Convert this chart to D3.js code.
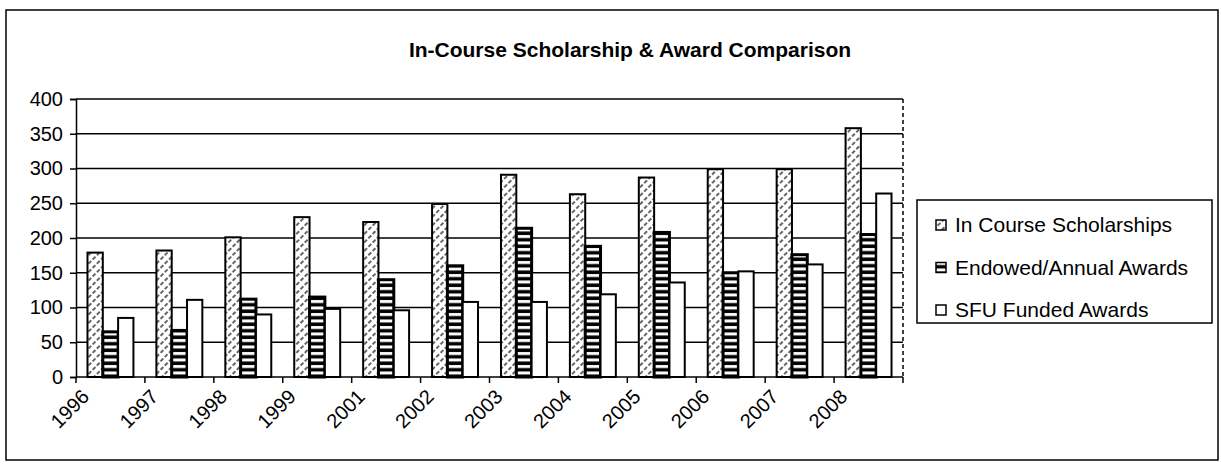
<!DOCTYPE html>
<html>
<head>
<meta charset="utf-8">
<script src="https://cdn.jsdelivr.net/npm/d3@7"></script>
<style>
  body { margin: 0; background: #fff; }
  svg { display: block; font-family: "Liberation Sans", Arial, sans-serif; }
</style>
</head>
<body>
<svg id="chart"></svg>
<script>
const years = ["1996", "1997", "1998", "1999", "2001", "2002", "2003", "2004", "2005", "2006", "2007", "2008"];
const seriesNames = ["In Course Scholarships", "Endowed/Annual Awards", "SFU Funded Awards"];
const inCourse = [179, 182, 201, 230, 223, 249, 291, 263, 287, 299, 299, 358];
const endowed = [65, 67, 112, 115, 140, 160, 214, 188, 208, 150, 176, 205];
const sfuFunded = [85, 111, 90, 98, 96, 108, 108, 119, 136, 152, 162, 264];
const yTicks = [0, 50, 100, 150, 200, 250, 300, 350, 400];

const width = 1221;
const height = 467;
const plot = { left: 76, right: 903, top: 99, bottom: 377 };

const svg = d3.select("#chart")
  .attr("width", width)
  .attr("height", height);

svg.append("rect")
  .attr("width", width)
  .attr("height", height)
  .attr("fill", "#fff");

// fill patterns
const defs = svg.append("defs");

const hatch = defs.append("pattern")
  .attr("id", "hatch")
  .attr("patternUnits", "userSpaceOnUse")
  .attr("width", 6)
  .attr("height", 6)
  .attr("patternTransform", "rotate(45)");
hatch.append("rect").attr("width", 6).attr("height", 6).attr("fill", "#fff");
hatch.append("line")
  .attr("x1", 3).attr("y1", 0).attr("x2", 3).attr("y2", 6)
  .attr("stroke", "#000")
  .attr("stroke-width", 1.2)
  .attr("stroke-dasharray", "4,2");

const stripes = defs.append("pattern")
  .attr("id", "stripes")
  .attr("patternUnits", "userSpaceOnUse")
  .attr("width", 10)
  .attr("height", 6.5);
stripes.append("rect").attr("width", 10).attr("height", 6.5).attr("fill", "#000");
stripes.append("rect").attr("y", 1).attr("width", 10).attr("height", 3).attr("fill", "#fff");

const fills = ["url(#hatch)", "url(#stripes)", "#fff"];
const strokeW = [2, 3, 2];

// outer chart border
svg.append("rect")
  .attr("x", 6)
  .attr("y", 10)
  .attr("width", 1212)
  .attr("height", 450)
  .attr("fill", "none")
  .attr("stroke", "#000")
  .attr("stroke-width", 1.5);

svg.append("text")
  .attr("x", 630)
  .attr("y", 57)
  .attr("text-anchor", "middle")
  .attr("font-size", "21px")
  .attr("font-weight", "bold")
  .text("In-Course Scholarship & Award Comparison");

const x = d3.scaleBand()
  .domain(years)
  .range([plot.left, plot.right])
  .padding(0);

const xInner = d3.scaleBand()
  .domain(seriesNames)
  .range([0, x.bandwidth()])
  .paddingInner(0)
  .paddingOuter(0.75);

const y = d3.scaleLinear()
  .domain([0, 400])
  .range([plot.bottom, plot.top]);

// gridlines
svg.append("g")
  .selectAll("line")
  .data(yTicks.filter(d => d > 0))
  .enter()
  .append("line")
  .attr("x1", plot.left)
  .attr("x2", plot.right)
  .attr("y1", d => y(d))
  .attr("y2", d => y(d))
  .attr("stroke", "#000")
  .attr("stroke-width", 1.5);

// dotted right edge of plot area
svg.append("line")
  .attr("x1", plot.right)
  .attr("x2", plot.right)
  .attr("y1", plot.top)
  .attr("y2", plot.bottom)
  .attr("stroke", "#000")
  .attr("stroke-width", 1.5)
  .attr("stroke-dasharray", "4,3");

// bars
const seriesData = [inCourse, endowed, sfuFunded];
seriesData.forEach((values, si) => {
  svg.append("g")
    .selectAll("rect")
    .data(values)
    .enter()
    .append("rect")
    .attr("x", (d, i) => x(years[i]) + xInner(seriesNames[si]))
    .attr("y", d => y(d))
    .attr("width", xInner.bandwidth())
    .attr("height", d => y(0) - y(d))
    .attr("fill", fills[si])
    .attr("stroke", "#000")
    .attr("stroke-width", strokeW[si]);
});

// y axis
const yAxis = svg.append("g")
  .attr("transform", `translate(${plot.left},0)`)
  .call(d3.axisLeft(y).tickValues(yTicks).tickSize(6).tickPadding(7).tickFormat(d3.format("d")));
yAxis.selectAll("text").attr("font-size", "20px").attr("fill", "#000").attr("font-family", null);
yAxis.selectAll("line").attr("stroke", "#000").attr("stroke-width", 1.5);
yAxis.select(".domain").attr("stroke", "#000").attr("stroke-width", 1.5);

// x axis (ticks between categories)
const xAxis = svg.append("g").attr("transform", `translate(0,${plot.bottom})`);
xAxis.append("line")
  .attr("x1", plot.left)
  .attr("x2", plot.right)
  .attr("stroke", "#000")
  .attr("stroke-width", 1.5);
xAxis.selectAll(".tick-mark")
  .data(years.concat(["end"]))
  .enter()
  .append("line")
  .attr("class", "tick-mark")
  .attr("x1", (d, i) => plot.left + i * x.step())
  .attr("x2", (d, i) => plot.left + i * x.step())
  .attr("y1", 0)
  .attr("y2", 6)
  .attr("stroke", "#000")
  .attr("stroke-width", 1.5);
xAxis.selectAll(".year-label")
  .data(years)
  .enter()
  .append("text")
  .attr("class", "year-label")
  .attr("text-anchor", "end")
  .attr("font-size", "20px")
  .attr("transform", d => `translate(${x(d) + x.bandwidth() / 2 - 20},${21}) rotate(-45)`)
  .text(d => d);

// legend
const legend = svg.append("g").attr("transform", "translate(917,200)");
legend.append("rect")
  .attr("width", 295)
  .attr("height", 123)
  .attr("fill", "#fff")
  .attr("stroke", "#000")
  .attr("stroke-width", 1.5);

const items = legend.selectAll(".item")
  .data(seriesNames)
  .enter()
  .append("g")
  .attr("class", "item")
  .attr("transform", (d, i) => `translate(0,${25 + i * 42.5})`);

items.append("rect")
  .attr("x", 19)
  .attr("y", -5)
  .attr("width", 10)
  .attr("height", 10)
  .attr("fill", (d, i) => fills[i])
  .attr("stroke", "#000")
  .attr("stroke-width", 1.5);

items.append("text")
  .attr("x", 38)
  .attr("dy", "0.35em")
  .attr("font-size", "21px")
  .text(d => d);
</script>
</body>
</html>
